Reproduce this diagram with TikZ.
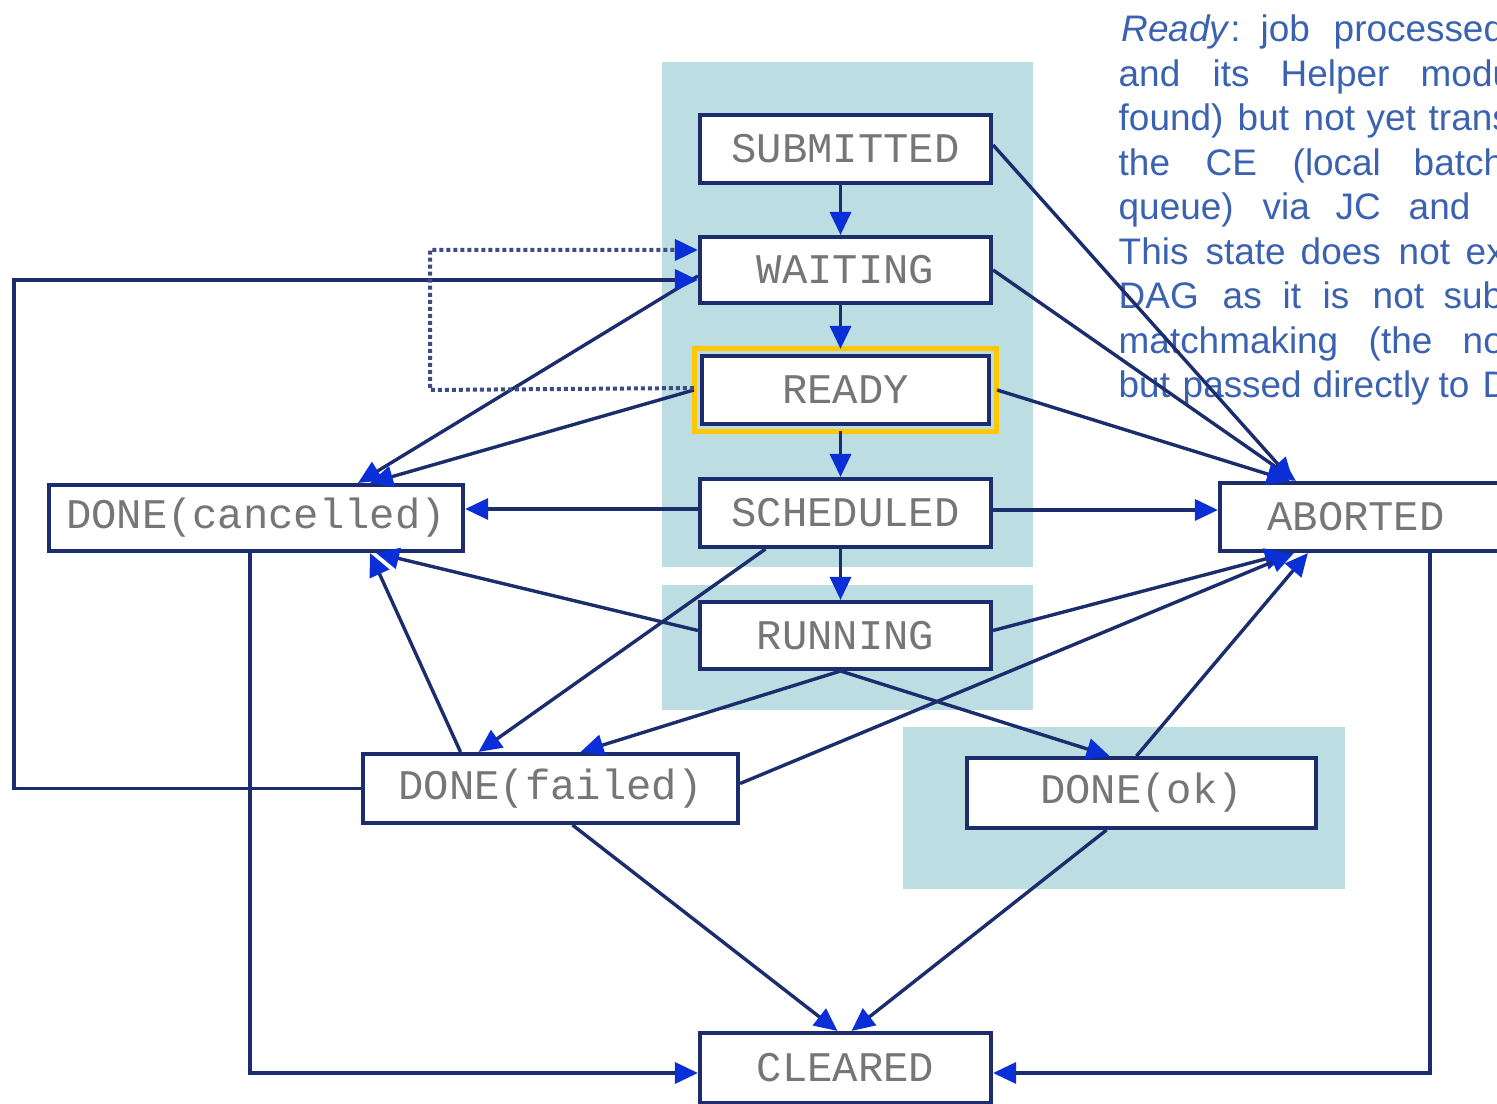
\documentclass[tikz,border=0pt]{standalone}
\usepackage{fontspec}
\setmainfont{Liberation Sans}
\newfontfamily\statefont{Liberation Mono}
\usetikzlibrary{arrows.meta,calc}
\definecolor{panelteal}{HTML}{BCDDE2}
\definecolor{edgenavy}{HTML}{1C2D6E}
\definecolor{tipblue}{HTML}{0B2FD6}
\definecolor{labelgray}{HTML}{767676}
\definecolor{notetext}{HTML}{3A62B0}
\definecolor{readyyellow}{HTML}{FFC800}

\begin{document}
\begin{tikzpicture}[x=0.01cm,y=-0.01cm,
  state/.style={draw=edgenavy, line width=0.04cm, fill=white, inner sep=0pt,
    font=\statefont\fontsize{12}{14}\selectfont, text=labelgray},
  statelabel/.style={inner sep=0pt, font=\statefont\fontsize{12}{14}\selectfont, text=labelgray},
  flow/.style={draw=edgenavy, line width=0.034cm,
    -{Triangle[length=0.23cm,width=0.21cm,color=tipblue]}},
  back/.style={flow, draw=edgenavy!85, line width=0.04cm, dash pattern=on 0.04cm off 0.03cm},
  note/.style={font=\fontsize{10.5}{13}\selectfont, text=notetext, anchor=base west, inner sep=0pt}]

\useasboundingbox (0,0) rectangle (1497,1104);
\clip (0,0) rectangle (1497,1104);

% shaded groups of states
\fill[panelteal] (662,62) rectangle (1033,567);
\fill[panelteal] (662,585) rectangle (1033,710);
\fill[panelteal] (903,727) rectangle (1345,889);

% explanation of the READY state (justified paragraph, word by word)
\foreach \wx/\wy/\wt [count=\k] in {
  1121/42/{\textit{Ready}:}, 1260/42/job, 1333/42/processed,
  1118/86.5/and, 1212/86.5/its, 1280/86.5/Helper, 1420/86.5/modules,
  1118/131/found), 1237/131/but, 1303/131/not, 1366/131/yet, 1428/131/transferred,
  1118/175.5/the, 1205/175.5/CE, 1292/175.5/(local, 1413/175.5/batch,
  1118/220/queue), 1262/220/via, 1335/220/JC, 1408/220/and,
  1118/264.5/This, 1205/264.5/state, 1300/264.5/does, 1398/264.5/not, 1465/264.5/exist,
  1118/309/DAG, 1222/309/as, 1282/309/it, 1322/309/is, 1372/309/not, 1443/309/subjected,
  1118/353.5/matchmaking, 1368/353.5/(the, 1462/353.5/nodes,
  1118/398/but, 1182/398/passed, 1312/398/directly, 1438/398/to, 1482/398/DAGMan.}
  \node[note] (note\k) at (\wx,\wy) {\wt};

% states
\node[state, minimum width=2.91cm, minimum height=0.68cm] (sub)   at (845.5,149)   {SUBMITTED};
\node[state, minimum width=2.91cm, minimum height=0.66cm] (wait)  at (845.5,270)   {WAITING};
\node[state, minimum width=2.87cm, minimum height=0.68cm] (ready) at (845.5,390)   {READY};
\draw[readyyellow, line width=0.05cm]
  ($(ready.north west)+(-5,-5)$) rectangle ($(ready.south east)+(5,5)$);
\node[state, minimum width=2.91cm, minimum height=0.68cm] (sched) at (845.5,513)   {SCHEDULED};
\node[state, minimum width=2.91cm, minimum height=0.67cm] (run)   at (845.5,635.5) {RUNNING};
\node[state, minimum width=4.14cm, minimum height=0.66cm] (canc)  at (256,518)     {DONE(cancelled)};
\node[state, minimum width=3.00cm, minimum height=0.68cm] (abort) at (1370,517)    {};
\node[statelabel] (abortlabel) at (1356,517) {ABORTED};
\node[state, minimum width=3.75cm, minimum height=0.69cm] (fail)  at (550.5,788.5) {DONE(failed)};
\node[state, minimum width=3.49cm, minimum height=0.70cm] (ok)    at (1141.5,793)  {DONE(ok)};
\node[state, minimum width=2.91cm, minimum height=0.70cm] (clr)   at (845.5,1068)  {CLEARED};

% main sequence
\draw[flow] ($(sub.south)+(-5,0)$)   -- ($(wait.north)+(-5,0)$);
\draw[flow] ($(wait.south)+(-5,0)$)  -- ($(ready.north)+(-5,-5)$);
\draw[flow] ($(ready.south)+(-5,5)$) -- ($(sched.north)+(-5,0)$);
\draw[flow] ($(sched.south)+(-5,0)$) -- ($(run.north)+(-5,0)$);

% transitions to ABORTED
\draw[flow] ($(sub.east)+(0,-4)$)   -- ($(abort.north west)+(75,0)$);
\draw[flow] (wait.east)             -- ($(abort.north west)+(78,0)$);
\draw[flow] ($(ready.east)+(6,0)$)  -- ($(abort.north west)+(72,0)$);
\draw[flow] ($(sched.east)+(0,-3)$) -- ($(sched.east -| abort.west)+(0,-3)$);
\draw[flow] ($(run.east)+(0,-5)$)   -- ($(abort.south west)+(70,0)$);
\draw[flow] ($(fail.east)+(0,-5)$)  -- ($(abort.south west)+(76,0)$);
\draw[flow] ($(ok.north)+(-5,0)$)   -- ($(abort.south west)+(90,0)$);

% transitions to DONE(cancelled)
\draw[flow] ($(sched.west)+(0,-4)$) -- ($(sched.west -| canc.east)+(0,-4)$);
\draw[flow] ($(wait.west)+(0,6)$)   -- ($(canc.north)+(102,0)$);
\draw[flow] ($(ready.west)+(-6,0)$) -- ($(canc.north)+(114,0)$);
\draw[flow] ($(run.west)+(0,-5)$)   -- ($(canc.south)+(120,0)$);
\draw[flow] ($(fail.north)+(-90,0)$) -- ($(canc.south)+(114,0)$);

% transitions to DONE(failed) and DONE(ok)
\draw[flow] ($(sched.south)+(-80,0)$) -- ($(fail.north)+(-72,0)$);
\draw[flow] ($(run.south)+(-5,0)$)    -- ($(fail.north)+(30,0)$);
\draw[flow] ($(run.south)+(-5,0)$)    -- ($(ok.north)+(-32,0)$);

% transitions to CLEARED
\draw[flow] ($(fail.south)+(22,0)$) -- ($(clr.north)+(-8,0)$);
\draw[flow] ($(ok.south)+(-35,0)$)  -- ($(clr.north)+(6,0)$);
\draw[flow] ($(canc.south)+(-6,0)$) |- ($(clr.west)+(0,5)$);
\draw[flow] ($(abort.south)+(60,0)$) |- ($(clr.east)+(0,5)$);

% resubmission loop and READY back to WAITING
\coordinate (loopx) at (14,785);
\draw[flow] (fail.west) -- (fail.west -| loopx) |- ($(wait.west)+(0,10)$);
\coordinate (dotx) at (430,0);
\draw[back] ($(ready.west)+(-6,-2)$) -- (ready.west -| dotx) |- ($(wait.west)+(0,-20)$);

\end{tikzpicture}
\end{document}
